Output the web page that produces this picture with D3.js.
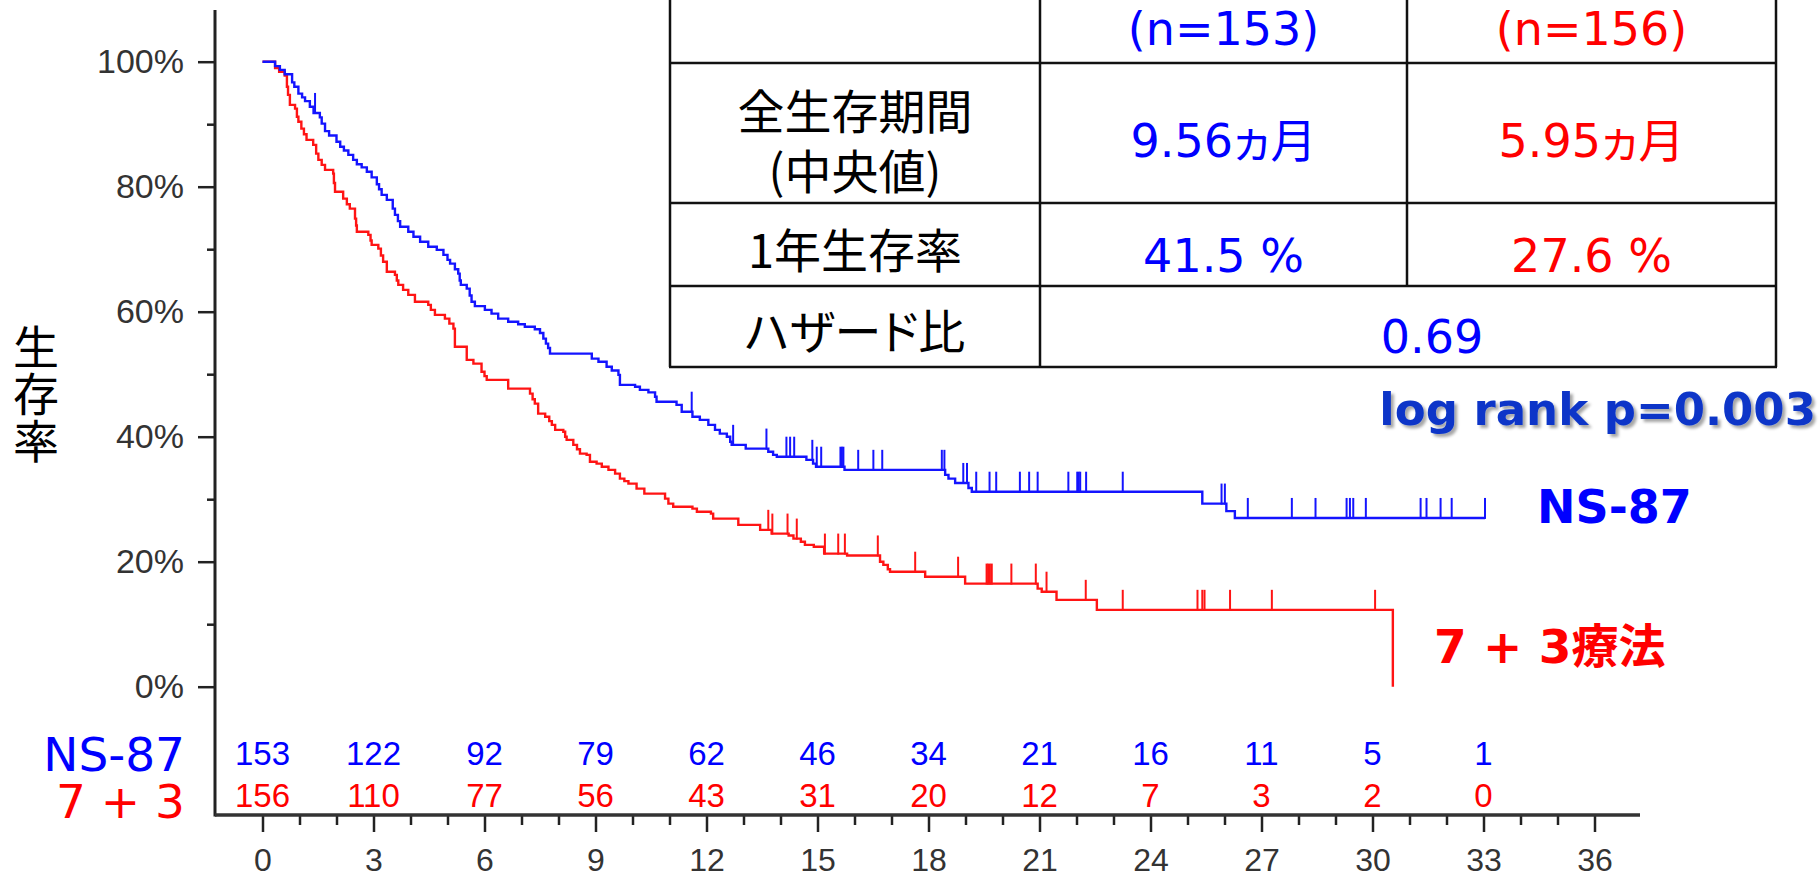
<!DOCTYPE html>
<html>
<head>
<meta charset="utf-8">
<script src="https://cdn.jsdelivr.net/npm/d3@7"></script>
<style>
  html, body { margin: 0; padding: 0; background: #fff; }
  svg { display: block; }
</style>
</head>
<body>
<svg id="chart" width="1820" height="878"></svg>
<script>
// ---------- data ----------
// Kaplan-Meier steps: [month, survival after the step]
const nsCurve = [
  [0,1.000],[0.34,0.993],[0.47,0.987],[0.60,0.980],[0.80,0.967],[0.86,0.960],[0.97,0.949],
  [1.07,0.943],[1.15,0.937],[1.28,0.928],[1.38,0.918],[1.55,0.911],[1.60,0.901],[1.69,0.889],
  [1.80,0.882],[2.00,0.872],[2.10,0.864],[2.20,0.858],[2.32,0.851],[2.45,0.843],[2.55,0.836],
  [2.68,0.831],[2.82,0.824],[2.95,0.815],[3.09,0.804],[3.15,0.796],[3.22,0.787],[3.36,0.779],
  [3.52,0.765],[3.58,0.755],[3.66,0.745],[3.72,0.736],[3.94,0.728],[4.08,0.720],[4.26,0.712],
  [4.48,0.704],[4.71,0.699],[4.89,0.691],[5.00,0.683],[5.07,0.677],[5.20,0.668],[5.29,0.661],
  [5.33,0.650],[5.36,0.643],[5.52,0.637],[5.60,0.626],[5.65,0.616],[5.74,0.609],[6.01,0.603],
  [6.19,0.597],[6.37,0.589],[6.64,0.584],[6.91,0.580],[7.09,0.576],[7.36,0.572],[7.50,0.566],
  [7.59,0.557],[7.66,0.549],[7.72,0.542],[7.77,0.533],[8.90,0.525],[9.08,0.520],[9.30,0.512],
  [9.44,0.506],[9.62,0.499],[9.66,0.483],[10.07,0.480],[10.20,0.475],[10.43,0.471],[10.61,0.464],
  [10.65,0.456],[11.19,0.451],[11.33,0.440],[11.62,0.432],[11.82,0.427],[12.05,0.419],[12.23,0.411],
  [12.36,0.405],[12.55,0.400],[12.64,0.392],[12.68,0.387],[13.06,0.381],[13.67,0.376],[13.80,0.371],
  [13.90,0.368],[14.70,0.363],[14.88,0.357],[14.96,0.352],[15.73,0.347],[18.45,0.339],[18.54,0.333],
  [18.72,0.326],[19.08,0.318],[19.17,0.312],[25.40,0.293],[26.05,0.281],[26.28,0.270],[33.04,0.270]
];
const trtCurve = [
  [0,1.000],[0.34,0.990],[0.45,0.984],[0.60,0.978],[0.66,0.960],[0.69,0.947],[0.74,0.931],
  [0.88,0.925],[0.93,0.912],[0.97,0.904],[1.05,0.893],[1.12,0.884],[1.19,0.875],[1.37,0.867],
  [1.45,0.853],[1.51,0.843],[1.60,0.835],[1.69,0.827],[1.91,0.821],[1.93,0.806],[1.96,0.792],
  [2.18,0.781],[2.28,0.772],[2.36,0.765],[2.50,0.749],[2.53,0.738],[2.55,0.728],[2.86,0.723],
  [2.92,0.714],[2.95,0.707],[3.13,0.701],[3.20,0.690],[3.26,0.680],[3.36,0.664],[3.58,0.659],
  [3.63,0.650],[3.67,0.643],[3.80,0.635],[3.94,0.627],[4.12,0.616],[4.48,0.611],[4.55,0.603],
  [4.66,0.595],[4.93,0.589],[5.05,0.581],[5.16,0.573],[5.20,0.544],[5.52,0.523],[5.70,0.517],
  [5.92,0.504],[6.00,0.497],[6.06,0.491],[6.64,0.477],[7.23,0.469],[7.30,0.460],[7.36,0.453],
  [7.45,0.437],[7.64,0.432],[7.75,0.425],[7.82,0.419],[7.91,0.411],[8.13,0.408],[8.18,0.400],
  [8.22,0.395],[8.40,0.387],[8.50,0.380],[8.58,0.373],[8.76,0.371],[8.85,0.360],[9.03,0.357],
  [9.17,0.352],[9.35,0.347],[9.53,0.341],[9.66,0.333],[9.78,0.329],[9.89,0.325],[10.11,0.317],
  [10.32,0.309],[10.88,0.301],[10.97,0.293],[11.10,0.288],[11.62,0.285],[11.74,0.280],[12.12,0.277],
  [12.18,0.269],[12.86,0.259],[13.45,0.251],[13.76,0.245],[14.22,0.242],[14.35,0.237],[14.55,0.232],
  [14.66,0.227],[14.90,0.224],[15.18,0.213],[15.80,0.210],[16.69,0.200],[16.78,0.195],[16.90,0.188],
  [16.96,0.184],[17.91,0.176],[18.99,0.165],[20.95,0.157],[21.06,0.152],[21.46,0.139],[22.55,0.123],
  [30.55,0.000]
];
// censored observations (months)
const nsCensor = [1.42, 11.60, 12.72, 13.62, 14.16, 14.26, 14.37, 14.86, 14.98, 15.10, 15.62, 15.66,
  15.70, 16.10, 16.51, 16.75, 18.36, 18.43, 18.94, 19.04, 19.29, 19.65, 19.83, 20.47, 20.72, 20.95,
  21.78, 22.02, 22.06, 22.10, 22.26, 23.25, 25.92, 26.01, 26.63, 27.82, 28.46, 29.30, 29.39, 29.48,
  29.82, 31.30, 31.46, 31.84, 32.14, 33.04];
const trtCensor = [13.67, 13.78, 14.19, 14.44, 15.20, 15.56, 15.74, 16.63, 17.64, 18.80, 19.57, 19.61,
  19.66, 19.71, 20.24, 20.90, 21.19, 22.25, 23.25, 25.27, 25.40, 25.46, 26.15, 27.28, 30.07];

// axes
const monthTicks = [0, 3, 6, 9, 12, 15, 18, 21, 24, 27, 30, 33, 36];
const survTicks = [0, 0.2, 0.4, 0.6, 0.8, 1.0];
const survMinorTicks = [0.1, 0.3, 0.5, 0.7, 0.9];

// number at risk
const riskMonths = [0, 3, 6, 9, 12, 15, 18, 21, 24, 27, 30, 33];
const nsRisk  = [153, 122, 92, 79, 62, 46, 34, 21, 16, 11, 5, 1];
const trtRisk = [156, 110, 77, 56, 43, 31, 20, 12, 7, 3, 2, 0];

// group names
const nsName = "NS-87";
const trtName = "7 + 3";
const trtNameFull = "7 + 3療法";

// summary table
const groupN = ["(n=153)", "(n=156)"];
const medianOS = ["9.56ヵ月", "5.95ヵ月"];
const oneYearOS = ["41.5 %", "27.6 %"];
const hazardRatio = "0.69";
const rowLabels = [["全生存期間", "(中央値)"], ["1年生存率"], ["ハザード比"]];
const pValueText = "log rank p=0.003";
const yTitle = "生存率";

// ---------- drawing ----------
const BLUE = "#1414ff", RED = "#ff1414";
const TXT_BLUE = "#0000ff", TXT_RED = "#ff0000";
const AXIS_FONT = "'Liberation Sans', Arial, sans-serif";
const TABLE_FONT = "'DejaVu Sans', 'Noto Sans CJK JP', sans-serif";
const CJK_FONT = "'Noto Sans CJK JP', sans-serif";

const svg = d3.select("#chart");

const x = d3.scaleLinear().domain([0, 36]).range([262.5, 1594.5]);
const y = d3.scaleLinear().domain([0, 1]).range([686.7, 61.7]);

const frameLeft = 215, frameBottom = 815, frameTop = 10, frameRight = 1640;

// y axis
const gy = svg.append("g").attr("transform", `translate(${frameLeft},0)`);
gy.call(d3.axisLeft(y).tickValues(survTicks).tickFormat(d3.format(".0%")).tickSize(17).tickPadding(14));
gy.append("g").call(d3.axisLeft(y).tickValues(survMinorTicks).tickFormat("").tickSize(8));
gy.selectAll(".domain").remove();
gy.selectAll(".tick line").attr("stroke", "#222").attr("stroke-width", 2.5);
gy.selectAll(".tick text").attr("fill", "#333").style("font-family", AXIS_FONT).style("font-size", "34px");

// x axis
const gx = svg.append("g").attr("transform", `translate(0,${frameBottom})`);
gx.call(d3.axisBottom(x).tickValues(monthTicks).tickSize(17).tickPadding(16));
const minorMonths = d3.range(1, 36).filter(m => m % 3 !== 0);
gx.append("g").call(d3.axisBottom(x).tickValues(minorMonths).tickFormat("").tickSize(10));
gx.selectAll(".domain").remove();
gx.selectAll(".tick line").attr("stroke", "#222").attr("stroke-width", 2.5);
gx.selectAll(".tick text").attr("fill", "#333").style("font-family", AXIS_FONT).style("font-size", "32px");

// axis lines
svg.append("line").attr("x1", frameLeft).attr("x2", frameLeft).attr("y1", frameTop).attr("y2", frameBottom + 1.5)
  .attr("stroke", "#222").attr("stroke-width", 3);
svg.append("line").attr("x1", frameLeft).attr("x2", frameRight).attr("y1", frameBottom).attr("y2", frameBottom)
  .attr("stroke", "#333").attr("stroke-width", 3.5);

// y axis title, set vertically
svg.append("text")
  .attr("x", 36).attr("y", 324)
  .attr("writing-mode", "vertical-rl")
  .style("font-family", CJK_FONT).style("font-size", "46px").style("letter-spacing", "1px")
  .attr("fill", "#000")
  .text(yTitle);

// survival curves
const km = d3.line().x(d => x(d[0])).y(d => y(d[1])).curve(d3.curveStepAfter);
function levelAt(curve, t) {
  let s = curve[0][1];
  for (const [tt, ss] of curve) { if (tt < t) s = ss; else break; }
  return s;
}
function drawGroup(curve, censor, color) {
  const g = svg.append("g");
  g.append("path").attr("d", km(curve)).attr("fill", "none")
    .attr("stroke", color).attr("stroke-width", 2.4).attr("stroke-linejoin", "miter");
  g.selectAll("line").data(censor).join("line")
    .attr("x1", d => x(d)).attr("x2", d => x(d))
    .attr("y1", d => y(levelAt(curve, d)) + 1).attr("y2", d => y(levelAt(curve, d)) - 20)
    .attr("stroke", color).attr("stroke-width", 2);
}
drawGroup(trtCurve, trtCensor, RED);
drawGroup(nsCurve, nsCensor, BLUE);

// number at risk
function riskRow(values, baseline, color) {
  svg.append("g").selectAll("text").data(values).join("text")
    .attr("x", (d, i) => x(riskMonths[i])).attr("y", baseline)
    .attr("text-anchor", "middle").attr("fill", color)
    .style("font-family", AXIS_FONT).style("font-size", "33px")
    .text(d => d);
}
riskRow(nsRisk, 765, TXT_BLUE);
riskRow(trtRisk, 807, TXT_RED);
// group names of the risk table, one block of two lines
const riskNames = svg.append("text").attr("text-anchor", "end")
  .style("font-family", TABLE_FONT).style("font-size", "47px");
riskNames.append("tspan").attr("x", 185).attr("y", 771).attr("fill", TXT_BLUE).text(nsName);
riskNames.append("tspan").attr("x", 185).attr("y", 818).attr("fill", TXT_RED).text(trtName);

// group labels at curve ends
svg.append("text").attr("x", 1537).attr("y", 523).attr("fill", TXT_BLUE)
  .style("font-family", TABLE_FONT).style("font-size", "46px").style("font-weight", "bold").text(nsName);
svg.append("text").attr("x", 1434).attr("y", 663).attr("fill", TXT_RED)
  .style("font-family", TABLE_FONT).style("font-size", "47px").style("font-weight", "bold").text(trtNameFull);

// p-value with soft shadow
const defs = svg.append("defs");
const f = defs.append("filter").attr("id", "shadow").attr("x", "-5%").attr("y", "-20%").attr("width", "110%").attr("height", "150%");
f.append("feDropShadow").attr("dx", 3).attr("dy", 3).attr("stdDeviation", 1.6)
  .attr("flood-color", "#000").attr("flood-opacity", 0.35);
svg.append("text").attr("x", 1816).attr("y", 425).attr("text-anchor", "end").attr("fill", "#0a36c8")
  .attr("filter", "url(#shadow)")
  .style("font-family", TABLE_FONT).style("font-size", "45px").style("font-weight", "bold").text(pValueText);

// summary table
const colX = [670, 1040, 1407, 1776];
const rowY = [-10, 63, 203, 286, 367];
const tbl = svg.append("g");
const border = { stroke: "#111", w: 2.5 };
rowY.slice(1).forEach(yy => tbl.append("line").attr("x1", colX[0] - 1).attr("x2", colX[3] + 1)
  .attr("y1", yy).attr("y2", yy).attr("stroke", border.stroke).attr("stroke-width", border.w));
[colX[0], colX[1], colX[3]].forEach(xx => tbl.append("line").attr("x1", xx).attr("x2", xx)
  .attr("y1", rowY[0]).attr("y2", rowY[4]).attr("stroke", border.stroke).attr("stroke-width", border.w));
tbl.append("line").attr("x1", colX[2]).attr("x2", colX[2]).attr("y1", rowY[0]).attr("y2", rowY[3])
  .attr("stroke", border.stroke).attr("stroke-width", border.w);

const c1 = (colX[0] + colX[1]) / 2, c2 = (colX[1] + colX[2]) / 2, c3 = (colX[2] + colX[3]) / 2;
function cell(lines, cx, cys, color, opts = {}) {
  const t = tbl.append("text").attr("text-anchor", "middle")
    .attr("dominant-baseline", opts.central ? "central" : "alphabetic")
    .attr("fill", color).style("font-family", opts.font || TABLE_FONT)
    .style("font-size", (opts.size || 46) + "px")
    .style("font-feature-settings", "'palt'");
  [].concat(lines).forEach((ln, i) => t.append("tspan").attr("x", cx).attr("y", [].concat(cys)[i]).text(ln));
  return t;
}
// header row
cell(groupN[0], c2, 45, TXT_BLUE);
cell(groupN[1], c3, 45, TXT_RED);
// row labels
cell(rowLabels[0], c1, [108, 168], "#000", { central: true, font: CJK_FONT, size: 47 });
cell(rowLabels[1], c1, 247, "#000", { central: true, font: CJK_FONT, size: 47 });
cell(rowLabels[2], c1, 328, "#000", { central: true, font: CJK_FONT, size: 47 });
// values
cell(medianOS[0], c2, 157, TXT_BLUE);
cell(medianOS[1], c3, 157, TXT_RED);
cell(oneYearOS[0], c2, 272, TXT_BLUE);
cell(oneYearOS[1], c3, 272, TXT_RED);
cell(hazardRatio, 1432, 353, TXT_BLUE);
</script>
</body>
</html>
